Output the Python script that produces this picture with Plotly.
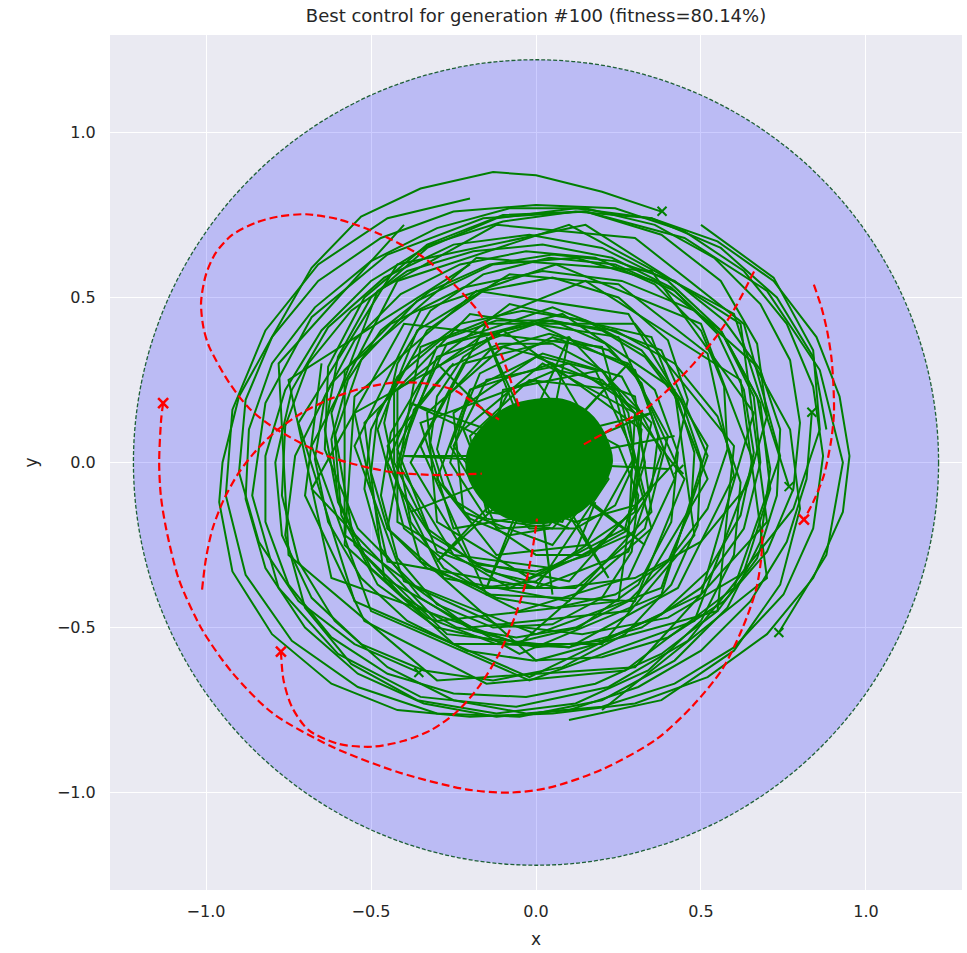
import plotly.graph_objects as go

title_text = "Best control for generation #100 (fitness=80.14%)"
arena_radius = 1.22
tick_vals = [-1.0, -0.5, 0.0, 0.5, 1.0]

# ---- red (dashed) trajectories ----
red_1 = [(-1.13, 0.18), (-1.136, 0.13), (-1.142, 0.0), (-1.137, -0.1), (-1.121, -0.2), (-1.082, -0.355),
         (-1.012, -0.506), (-0.921, -0.636), (-0.8, -0.758), (-0.618, -0.861), (-0.415, -0.939),
         (-0.212, -0.99), (-0.08, -1.0), (0.04, -0.985), (0.2, -0.93), (0.364, -0.839), (0.473, -0.739),
         (0.564, -0.627), (0.624, -0.506), (0.667, -0.385), (0.683, -0.285), (0.686, -0.203)]
red_2 = [(-0.773, -0.573), (-0.765, -0.66), (-0.74, -0.74), (-0.69, -0.81), (-0.6, -0.852), (-0.497, -0.861),
         (-0.4, -0.843), (-0.315, -0.809), (-0.24, -0.755), (-0.173, -0.679), (-0.112, -0.58),
         (-0.065, -0.47), (-0.03, -0.36), (-0.01, -0.26), (0.003, -0.17)]
red_3 = [(-1.012, -0.385), (-1.0, -0.29), (-0.98, -0.2), (-0.945, -0.11), (-0.9, -0.03), (-0.845, 0.04),
         (-0.788, 0.095), (-0.71, 0.15), (-0.63, 0.19), (-0.527, 0.225), (-0.43, 0.242), (-0.34, 0.24),
         (-0.25, 0.22), (-0.173, 0.17), (-0.112, 0.13)]
red_4 = [(-0.052, 0.17), (-0.103, 0.321), (-0.173, 0.455), (-0.264, 0.555), (-0.345, 0.624), (-0.485, 0.697),
         (-0.6, 0.737), (-0.697, 0.752), (-0.78, 0.745), (-0.848, 0.727), (-0.92, 0.69), (-0.97, 0.636),
         (-1.0, 0.57), (-1.015, 0.485), (-1.008, 0.41), (-0.991, 0.352), (-0.93, 0.242), (-0.87, 0.165),
         (-0.8, 0.109), (-0.627, 0.018), (-0.445, -0.028), (-0.3, -0.038), (-0.224, -0.036), (-0.164, -0.034)]
red_5 = [(0.842, 0.539), (0.865, 0.47), (0.882, 0.4), (0.895, 0.32), (0.901, 0.24), (0.903, 0.152),
         (0.895, 0.07), (0.872, -0.04), (0.84, -0.12), (0.812, -0.173)]
red_6 = [(0.145, 0.055), (0.242, 0.109), (0.342, 0.17), (0.442, 0.261), (0.515, 0.342), (0.56, 0.4),
         (0.606, 0.473), (0.661, 0.579)]
red_marks = [(-1.13, 0.18), (-0.773, -0.573), (0.812, -0.173)]

# ---- green (solid) trajectories ----
green_1 = [(0.38, 0.76), (0.2, 0.82), (0.0, 0.87), (-0.13, 0.88), (-0.35, 0.83), (-0.53, 0.745), (-0.68, 0.59),
           (-0.8, 0.38), (-0.9, 0.2), (-0.95, 0.0), (-0.96, -0.12), (-0.92, -0.33), (-0.8, -0.52),
           (-0.62, -0.67), (-0.42, -0.75), (-0.2, -0.77), (0.05, -0.76), (0.3, -0.73), (0.52, -0.65),
           (0.7, -0.52), (0.84, -0.35), (0.93, -0.15), (0.95, 0.02), (0.92, 0.2), (0.85, 0.38), (0.72, 0.55),
           (0.55, 0.67), (0.35, 0.74), (0.12, 0.76), (-0.1, 0.73), (-0.32, 0.66), (-0.5, 0.55), (-0.65, 0.4),
           (-0.76, 0.22), (-0.82, 0.02), (-0.82, -0.18), (-0.75, -0.37), (-0.62, -0.53), (-0.45, -0.64),
           (-0.25, -0.7), (-0.03, -0.71), (0.18, -0.67), (0.38, -0.58), (0.55, -0.45), (0.67, -0.29),
           (0.73, -0.1), (0.74, 0.1), (0.68, 0.28), (0.57, 0.43), (0.42, 0.55), (0.24, 0.61), (0.05, 0.63),
           (-0.14, 0.6), (-0.32, 0.52), (-0.47, 0.4), (-0.57, 0.25), (-0.62, 0.07), (-0.6, -0.11),
           (-0.52, -0.28), (-0.4, -0.41), (-0.24, -0.5), (-0.06, -0.53), (0.12, -0.5), (0.28, -0.42),
           (0.4, -0.3), (0.47, -0.14), (0.48, 0.03), (0.43, 0.19), (0.33, 0.32), (0.2, 0.4), (0.05, 0.43),
           (-0.1, 0.4), (-0.22, 0.32), (-0.3, 0.2), (-0.32, 0.06), (-0.28, -0.07), (-0.2, -0.17),
           (-0.08, -0.22), (0.04, -0.2)]
green_2 = [(0.836, 0.152), (0.82, -0.05), (0.76, -0.24), (0.65, -0.42), (0.5, -0.57), (0.31, -0.68),
           (0.1, -0.75), (-0.12, -0.77), (-0.34, -0.73), (-0.54, -0.64), (-0.7, -0.5), (-0.82, -0.32),
           (-0.88, -0.11), (-0.87, 0.1), (-0.8, 0.3), (-0.67, 0.47), (-0.5, 0.61), (-0.3, 0.71), (-0.08, 0.77),
           (0.15, 0.77), (0.36, 0.72), (0.54, 0.62), (0.68, 0.48), (0.77, 0.31), (0.8, 0.12), (0.78, -0.08),
           (0.7, -0.27), (0.57, -0.42), (0.4, -0.53), (0.2, -0.59), (-0.01, -0.6), (-0.21, -0.57),
           (-0.39, -0.48), (-0.53, -0.35), (-0.63, -0.18), (-0.67, 0.01), (-0.64, 0.2), (-0.55, 0.37),
           (-0.41, 0.51), (-0.23, 0.6), (-0.03, 0.64), (0.18, 0.62), (0.36, 0.54), (0.5, 0.4), (0.57, 0.23),
           (0.58, 0.04), (0.52, -0.14), (0.4, -0.3), (0.24, -0.4), (0.06, -0.44), (-0.12, -0.41),
           (-0.28, -0.32), (-0.38, -0.18), (-0.41, -0.01), (-0.37, 0.16), (-0.26, 0.29), (-0.11, 0.36),
           (0.05, 0.36), (0.2, 0.28), (0.28, 0.15), (0.3, 0.0), (0.24, -0.13), (0.12, -0.2), (-0.02, -0.2),
           (-0.12, -0.1)]
green_3 = [(-0.355, -0.636), (-0.55, -0.55), (-0.72, -0.42), (-0.84, -0.24), (-0.9, -0.03), (-0.88, 0.19),
           (-0.8, 0.38), (-0.66, 0.55), (-0.47, 0.68), (-0.25, 0.76), (0.0, 0.78), (0.24, 0.77), (0.45, 0.7),
           (0.63, 0.58), (0.76, 0.42), (0.84, 0.23), (0.87, 0.02), (0.84, -0.2), (0.75, -0.4), (0.6, -0.56),
           (0.42, -0.67), (0.2, -0.74), (-0.03, -0.76), (-0.25, -0.72), (-0.45, -0.62), (-0.61, -0.48),
           (-0.72, -0.3), (-0.77, -0.1), (-0.76, 0.11), (-0.69, 0.3), (-0.56, 0.46), (-0.39, 0.58),
           (-0.19, 0.64), (0.02, 0.66), (0.23, 0.62), (0.41, 0.53), (0.55, 0.39), (0.63, 0.22), (0.66, 0.03),
           (0.62, -0.16), (0.52, -0.33), (0.38, -0.46), (0.2, -0.54), (0.0, -0.56), (-0.19, -0.51),
           (-0.35, -0.41), (-0.47, -0.26), (-0.52, -0.08), (-0.5, 0.1), (-0.42, 0.26), (-0.29, 0.37),
           (-0.12, 0.43), (0.05, 0.43), (0.21, 0.36), (0.32, 0.24), (0.37, 0.08), (0.35, -0.08), (0.27, -0.21),
           (0.14, -0.28), (0.0, -0.28), (-0.12, -0.2), (-0.17, -0.08), (-0.15, 0.05), (-0.06, 0.12), (0.05, 0.1)]
green_4 = [(0.736, -0.515), (0.88, -0.28), (0.93, 0.0), (0.86, 0.28), (0.7, 0.52), (0.45, 0.68), (0.15, 0.76),
           (-0.16, 0.74), (-0.45, 0.63), (-0.68, 0.44), (-0.82, 0.18), (-0.86, -0.1), (-0.78, -0.38),
           (-0.6, -0.58), (-0.35, -0.71), (-0.06, -0.74), (0.22, -0.68), (0.46, -0.54), (0.63, -0.33),
           (0.71, -0.08), (0.68, 0.18), (0.56, 0.4), (0.36, 0.55), (0.12, 0.62), (-0.13, 0.6), (-0.36, 0.49),
           (-0.53, 0.31), (-0.61, 0.08), (-0.59, -0.16), (-0.48, -0.37), (-0.3, -0.5), (-0.08, -0.55),
           (0.13, -0.5), (0.31, -0.37), (0.41, -0.18), (0.43, 0.03), (0.36, 0.22), (0.22, 0.34), (0.04, 0.39),
           (-0.14, 0.34), (-0.26, 0.21), (-0.3, 0.04), (-0.24, -0.12), (-0.11, -0.2), (0.04, -0.19), (0.12, -0.08)]
green_5 = [(0.767, -0.073), (0.6, 0.45), (0.1, 0.72), (-0.42, 0.55), (-0.68, 0.05), (-0.5, -0.45), (-0.02, -0.66),
           (0.48, -0.48), (0.66, 0.0), (0.5, 0.42), (0.06, 0.6), (-0.35, 0.46), (-0.55, 0.05), (-0.4, -0.36),
           (0.0, -0.52), (0.38, -0.38), (0.52, 0.02), (0.38, 0.34), (0.05, 0.47), (-0.27, 0.36), (-0.42, 0.04),
           (-0.3, -0.27), (0.0, -0.38), (0.28, -0.27), (0.38, 0.03), (0.26, 0.26), (0.02, 0.33), (-0.2, 0.22),
           (-0.26, 0.0), (-0.15, -0.17), (0.05, -0.2), (0.18, -0.05)]
green_6 = [(0.433, -0.021), (0.25, 0.38), (-0.2, 0.45), (-0.52, 0.12), (-0.46, -0.35), (-0.05, -0.58),
           (0.38, -0.4), (0.52, 0.05), (0.28, 0.45), (-0.18, 0.52), (-0.55, 0.2), (-0.58, -0.25), (-0.25, -0.55),
           (0.2, -0.55), (0.48, -0.22), (0.42, 0.22), (0.08, 0.45), (-0.3, 0.35), (-0.45, 0.0), (-0.28, -0.35),
           (0.1, -0.42), (0.35, -0.15), (0.3, 0.2), (0.0, 0.32), (-0.25, 0.15), (-0.22, -0.15), (0.05, -0.25),
           (0.2, -0.05), (0.05, 0.12)]
green_7 = [(-0.4, 0.72), (-0.78, 0.3), (-0.75, -0.28), (-0.3, -0.66), (0.3, -0.62), (0.7, -0.18), (0.62, 0.42),
           (0.15, 0.72), (-0.42, 0.6), (-0.72, 0.12), (-0.55, -0.42), (-0.02, -0.65), (0.5, -0.4), (0.66, 0.15),
           (0.35, 0.58), (-0.18, 0.62), (-0.58, 0.28), (-0.58, -0.22), (-0.2, -0.5), (0.28, -0.45), (0.52, -0.05),
           (0.35, 0.38), (-0.08, 0.48), (-0.42, 0.22), (-0.42, -0.18), (-0.08, -0.38), (0.28, -0.22), (0.3, 0.15),
           (0.02, 0.3), (-0.22, 0.1), (-0.12, -0.15), (0.12, -0.08)]
green_8 = [(0.88, 0.1), (0.84, 0.32), (0.73, 0.5), (0.56, 0.65), (0.35, 0.74), (0.12, 0.77), (-0.12, 0.74),
           (-0.33, 0.65), (-0.5, 0.5), (-0.6, 0.32), (-0.64, 0.1), (-0.6, -0.12), (-0.5, -0.32), (-0.33, -0.47),
           (-0.12, -0.55), (0.1, -0.56), (0.32, -0.5), (0.5, -0.38), (0.63, -0.2), (0.68, 0.0), (0.66, 0.2),
           (0.57, 0.38), (0.42, 0.52), (0.24, 0.6), (0.04, 0.62), (-0.16, 0.57), (-0.32, 0.46), (-0.42, 0.3),
           (-0.46, 0.12), (-0.42, -0.07), (-0.32, -0.22), (-0.17, -0.31), (0.0, -0.33), (0.16, -0.28),
           (0.28, -0.16), (0.33, 0.0), (0.3, 0.15), (0.2, 0.25), (0.06, 0.28), (-0.08, 0.22), (-0.14, 0.1)]
green_9 = [(0.1, -0.78), (0.38, -0.72), (0.6, -0.57), (0.74, -0.37), (0.8, -0.14), (0.77, 0.1), (0.66, 0.3),
           (0.48, 0.46), (0.26, 0.55), (0.02, 0.58), (-0.22, 0.53), (-0.44, 0.42), (-0.62, 0.24), (-0.73, 0.02),
           (-0.76, -0.22), (-0.7, -0.44), (-0.56, -0.61), (-0.36, -0.72), (-0.12, -0.76), (0.12, -0.73),
           (0.34, -0.63), (0.5, -0.48), (0.6, -0.28), (0.62, -0.06), (0.55, 0.14), (0.42, 0.3), (0.24, 0.4),
           (0.03, 0.43), (-0.17, 0.38), (-0.34, 0.26), (-0.44, 0.09), (-0.47, -0.1), (-0.42, -0.29),
           (-0.3, -0.43), (-0.13, -0.5), (0.05, -0.49), (0.2, -0.41), (0.29, -0.27), (0.31, -0.1), (0.25, 0.05),
           (0.12, 0.12), (0.0, 0.1)]
green_10 = [(-0.65, 0.3), (-0.7, -0.1), (-0.52, -0.48), (-0.15, -0.67), (0.27, -0.63), (0.6, -0.38), (0.74, 0.02),
            (0.63, 0.42), (0.3, 0.68), (-0.12, 0.72), (-0.48, 0.52), (-0.62, 0.15), (-0.55, -0.25),
            (-0.27, -0.52), (0.1, -0.56), (0.43, -0.38), (0.6, -0.04), (0.52, 0.33), (0.25, 0.54), (-0.08, 0.57),
            (-0.36, 0.4), (-0.48, 0.1), (-0.4, -0.2), (-0.17, -0.38), (0.12, -0.38), (0.33, -0.2), (0.4, 0.08),
            (0.28, 0.3), (0.05, 0.38), (-0.17, 0.27), (-0.26, 0.05), (-0.15, -0.13), (0.05, -0.15)]
green_11 = [(-0.2, 0.8), (-0.45, 0.74), (-0.66, 0.6), (-0.82, 0.4), (-0.92, 0.16), (-0.94, -0.1), (-0.88, -0.34),
            (-0.74, -0.54), (-0.54, -0.68), (-0.3, -0.76), (-0.05, -0.77), (0.2, -0.72), (0.42, -0.6),
            (0.58, -0.44), (0.68, -0.24), (0.71, -0.02), (0.67, 0.2), (0.56, 0.4), (0.4, 0.55), (0.2, 0.65),
            (-0.02, 0.69), (-0.25, 0.66), (-0.46, 0.56), (-0.63, 0.41), (-0.74, 0.22), (-0.79, 0.0),
            (-0.77, -0.22), (-0.68, -0.41), (-0.53, -0.55), (-0.34, -0.63), (-0.13, -0.66), (0.08, -0.62),
            (0.27, -0.52), (0.41, -0.37), (0.49, -0.19), (0.5, 0.01), (0.44, 0.19), (0.32, 0.34), (0.15, 0.43),
            (-0.04, 0.46), (-0.23, 0.42), (-0.38, 0.31), (-0.48, 0.15), (-0.5, -0.03), (-0.45, -0.2),
            (-0.33, -0.32), (-0.17, -0.38), (0.0, -0.36), (0.12, -0.27), (0.18, -0.12)]
green_12 = [(-0.2, 0.6), (-0.75, 0.25), (-0.62, -0.35), (-0.05, -0.55), (0.35, -0.2), (0.2, 0.35), (-0.4, 0.42),
            (-0.68, -0.08), (-0.3, -0.48), (0.25, -0.42), (0.32, 0.1), (-0.1, 0.4), (-0.55, 0.15), (-0.45, -0.3),
            (0.0, -0.38), (0.22, -0.05), (0.0, 0.25), (-0.35, 0.12), (-0.25, -0.2), (0.05, -0.15)]
green_13 = [(0.2, -0.75), (0.7, -0.35), (0.62, 0.25), (0.15, 0.55), (-0.35, 0.35), (-0.45, -0.2), (0.0, -0.6),
            (0.55, -0.45), (0.6, 0.05), (0.3, 0.42), (-0.15, 0.42), (-0.35, 0.05), (-0.15, -0.4), (0.3, -0.42),
            (0.45, -0.05), (0.2, 0.28), (-0.1, 0.22), (-0.15, -0.1), (0.1, -0.2)]
green_14 = [(0.5, 0.72), (0.72, 0.56), (0.84, 0.34), (0.86, 0.1), (0.78, -0.14), (0.62, -0.34), (0.4, -0.47),
            (0.14, -0.52), (-0.12, -0.49), (-0.36, -0.38), (-0.54, -0.2), (-0.64, 0.04), (-0.63, 0.29),
            (-0.52, 0.5), (-0.33, 0.66), (-0.1, 0.75), (0.15, 0.76), (0.38, 0.69), (0.56, 0.55), (0.67, 0.36),
            (0.7, 0.14), (0.64, -0.07), (0.5, -0.24), (0.3, -0.35), (0.07, -0.38), (-0.15, -0.33), (-0.33, -0.2),
            (-0.43, 0.0), (-0.43, 0.22), (-0.33, 0.4), (-0.16, 0.52), (0.05, 0.56), (0.25, 0.5), (0.4, 0.37),
            (0.46, 0.19), (0.42, 0.0), (0.3, -0.13), (0.12, -0.18), (-0.05, -0.12), (-0.12, 0.03)]
scribble_1 = [(0.2, 0.05), (0.05, 0.3), (-0.2, 0.22), (-0.3, -0.05), (-0.12, -0.28), (0.15, -0.25), (0.3, 0.02),
              (0.18, 0.28), (-0.1, 0.35), (-0.33, 0.15), (-0.3, -0.18), (-0.02, -0.35), (0.27, -0.2),
              (0.35, 0.12), (0.1, 0.38), (-0.22, 0.3), (-0.38, 0.0), (-0.2, -0.3), (0.1, -0.36), (0.33, -0.1),
              (0.25, 0.22), (-0.02, 0.25), (-0.2, 0.08), (-0.15, -0.15), (0.08, -0.18), (0.17, 0.02),
              (0.05, 0.15), (-0.1, 0.05), (-0.05, -0.08), (0.08, -0.03)]
scribble_2 = [(-0.25, 0.3), (-0.45, 0.05), (-0.35, -0.3), (-0.05, -0.45), (0.28, -0.35), (0.42, -0.05),
              (0.3, 0.28), (0.0, 0.42), (-0.3, 0.32), (-0.42, 0.0), (-0.25, -0.28), (0.05, -0.32), (0.3, -0.15),
              (0.32, 0.15), (0.1, 0.3), (-0.15, 0.25), (-0.25, 0.05), (-0.1, -0.15), (0.12, -0.12), (0.15, 0.08),
              (0.0, 0.12)]
scribble_3 = [(0.0, 0.0), (0.35, 0.15), (-0.05, 0.05), (0.1, 0.38), (0.02, -0.02), (-0.3, 0.3), (0.0, 0.0),
              (-0.4, 0.02), (0.0, 0.02), (-0.3, -0.3), (0.0, -0.02), (0.05, -0.4), (0.0, 0.0), (0.33, -0.25),
              (0.02, 0.0), (0.4, -0.02)]
scribble_4 = [(0.05, 0.05), (0.28, 0.3), (0.0, 0.0), (-0.15, 0.38), (0.0, 0.05), (-0.38, 0.18), (0.0, 0.0),
              (-0.38, -0.15), (0.0, 0.0), (-0.15, -0.38), (0.02, 0.0), (0.22, -0.35), (0.0, 0.0), (0.42, 0.08)]
core_outline = [(0.23, 0.0), (0.21, 0.08), (0.16, 0.15), (0.08, 0.19), (0.0, 0.19), (-0.08, 0.17),
                (-0.15, 0.12), (-0.2, 0.05), (-0.21, -0.02), (-0.18, -0.09), (-0.12, -0.15), (-0.04, -0.18),
                (0.05, -0.18), (0.13, -0.15), (0.19, -0.09), (0.23, 0.0)]
green_marks = [(0.382, 0.761), (-0.355, -0.636), (0.736, -0.515), (0.836, 0.152), (0.767, -0.073), (0.433, -0.021)]

GREEN = "#008000"
RED = "#ff0000"

fig = go.Figure()

green_paths = [green_1, green_2, green_3, green_4, green_5, green_6, green_7, green_8, green_9, green_10,
               green_11, green_12, green_13, green_14, scribble_1, scribble_2, scribble_3, scribble_4]
for path in green_paths:
    fig.add_trace(go.Scatter(x=[p[0] for p in path], y=[p[1] for p in path], mode="lines",
                             line=dict(color=GREEN, width=2), hoverinfo="skip"))

fig.add_trace(go.Scatter(x=[p[0] for p in core_outline], y=[p[1] for p in core_outline], mode="lines",
                         fill="toself", fillcolor=GREEN,
                         line=dict(color=GREEN, width=2, shape="spline", smoothing=1.0), hoverinfo="skip"))

fig.add_trace(go.Scatter(x=[p[0] for p in green_marks], y=[p[1] for p in green_marks], mode="markers",
                         marker=dict(symbol="x-thin", size=9, line=dict(color=GREEN, width=2)),
                         hoverinfo="skip"))

for path in [red_1, red_2, red_3, red_4, red_5, red_6]:
    fig.add_trace(go.Scatter(x=[p[0] for p in path], y=[p[1] for p in path], mode="lines",
                             line=dict(color=RED, width=2.2, dash="8px,4px", shape="spline", smoothing=0.8),
                             hoverinfo="skip"))

fig.add_trace(go.Scatter(x=[p[0] for p in red_marks], y=[p[1] for p in red_marks], mode="markers",
                         marker=dict(symbol="x-thin", size=10, line=dict(color=RED, width=2.5)),
                         hoverinfo="skip"))

fig.add_shape(type="circle", xref="x", yref="y",
              x0=-arena_radius, y0=-arena_radius, x1=arena_radius, y1=arena_radius,
              fillcolor="rgba(0,0,255,0.2)", line=dict(color="rgb(30,95,55)", width=1.3, dash="4px,2px"),
              layer="between")

axis_font = dict(family="DejaVu Sans", size=16, color="#262626")
fig.update_layout(
    width=967, height=953,
    margin=dict(l=110, r=5, t=35, b=63),
    paper_bgcolor="white", plot_bgcolor="#EAEAF2",
    showlegend=False,
    title=dict(text=title_text, x=0.5, xref="paper", xanchor="center", y=0.984, yref="container",
               yanchor="middle", font=dict(family="DejaVu Sans", size=18, color="#262626")),
    font=dict(family="DejaVu Sans", color="#262626"),
)
fig.update_xaxes(range=[-1.291, 1.291], tickvals=tick_vals, tickformat=".1f", showgrid=True,
                 gridcolor="white", gridwidth=1.3, zeroline=False, showline=False,
                 ticks="outside", ticklen=7, tickcolor="rgba(0,0,0,0)", tickfont=axis_font,
                 title=dict(text="x", font=dict(family="DejaVu Sans", size=17, color="#262626"), standoff=12))
fig.update_yaxes(range=[-1.295, 1.295], tickvals=tick_vals, tickformat=".1f", showgrid=True,
                 gridcolor="white", gridwidth=1.3, zeroline=False, showline=False,
                 ticks="outside", ticklen=10, tickcolor="rgba(0,0,0,0)", tickfont=axis_font,
                 title=dict(text="y", font=dict(family="DejaVu Sans", size=17, color="#262626"), standoff=14))

fig.write_html("out.html")
